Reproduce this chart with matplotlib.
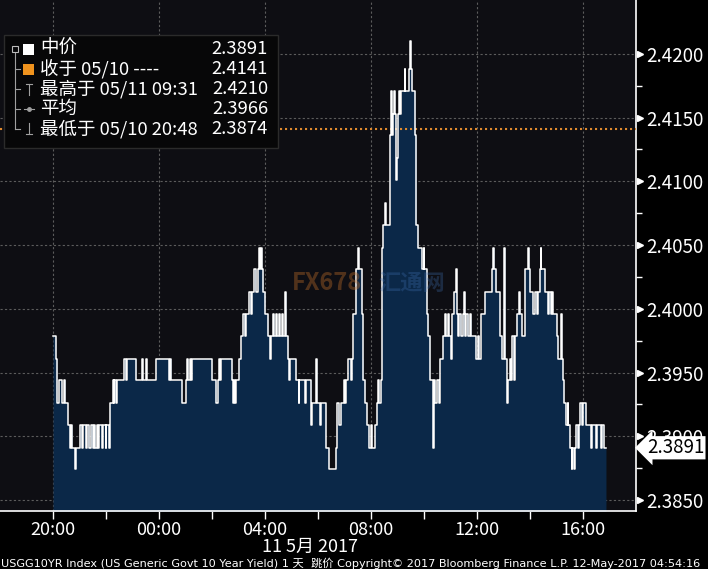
import numpy as np
import matplotlib.pyplot as plt
from matplotlib.lines import Line2D
from matplotlib.patches import Rectangle
from matplotlib.transforms import blended_transform_factory

plt.rcParams['font.family'] = ['Noto Sans CJK SC', 'DejaVu Sans']

W, H = 708, 569

# price levels (yield steps) seen on the chart
levels = [2.3874, 2.3891, 2.3909, 2.3926, 2.3944, 2.3961, 2.3979, 2.3996,
          2.4013, 2.4031, 2.4048, 2.4066, 2.4083, 2.4101, 2.4118, 2.4136,
          2.4153, 2.4171, 2.4188, 2.4210]

# minutes after 20:00 on 05/10 where the yield changes
minutes = [
    0, 6, 9, 14, 20, 24, 28, 33, 38, 40,
    44, 49, 51, 60, 65, 69, 74, 78, 82, 85,
    90, 92, 96, 99, 102, 105, 112, 114, 119, 121,
    126, 128, 135, 137, 139, 142, 145, 160, 166, 168,
    189, 201, 203, 210, 212, 234, 263, 265, 268, 292,
    302, 304, 306, 311, 313, 315, 360, 370, 373, 376,
    378, 381, 405, 408, 410, 412, 415, 421, 426, 430,
    435, 437, 444, 448, 450, 455, 459, 464, 466, 469,
    471, 473, 476, 480, 487, 491, 494, 498, 501, 505,
    507, 511, 514, 518, 520, 526, 528, 532, 534, 537,
    550, 556, 558, 571, 573, 585, 587, 596, 598, 604,
    606, 617, 624, 640, 644, 647, 651, 658, 660, 664,
    669, 674, 677, 680, 685, 690, 692, 699, 701, 703,
    706, 710, 715, 719, 722, 728, 733, 735, 739, 742,
    745, 747, 752, 753, 763, 765, 767, 769, 772, 774,
    776, 778, 780, 783, 786, 789, 796, 797, 805, 809,
    810, 813, 820, 823, 827, 835, 839, 841, 846, 850,
    853, 860, 862, 866, 870, 875, 877, 882, 888, 890,
    894, 897, 901, 904, 908, 912, 914, 917, 920, 924,
    928, 931, 933, 936, 940, 944, 947, 958, 963, 965,
    970, 977, 993, 997, 999, 1004, 1011, 1016, 1020, 1022,
    1024, 1027, 1029, 1031, 1034, 1037, 1040, 1043, 1047, 1050,
    1054, 1058, 1061, 1068, 1076, 1078, 1080, 1087, 1091, 1096,
    1098, 1102, 1105, 1106, 1113, 1120, 1122, 1127, 1129, 1131,
    1140, 1144, 1151, 1152, 1154, 1157, 1161, 1165, 1167, 1170,
    1174, 1175, 1180, 1182, 1184, 1188, 1190, 1193, 1197, 1200,
    1206, 1218, 1220, 1229, 1231, 1240, 1242, 1247, 1252,
]

# index into levels for each change
level_idx = [
    6, 5, 3, 4, 3, 4, 3, 2, 1, 2,
    1, 0, 1, 2, 1, 2, 1, 2, 1, 2,
    1, 2, 1, 2, 1, 2, 1, 2, 1, 2,
    1, 3, 4, 3, 4, 3, 4, 5, 4, 5,
    4, 5, 4, 5, 4, 5, 4, 5, 4, 3,
    4, 5, 4, 5, 4, 5, 4, 3, 4, 5,
    4, 5, 4, 3, 4, 3, 4, 5, 6, 7,
    6, 7, 8, 7, 8, 9, 8, 9, 10, 9,
    10, 9, 8, 7, 6, 5, 6, 7, 6, 7,
    6, 7, 6, 7, 6, 8, 6, 5, 4, 5,
    4, 3, 4, 3, 4, 2, 3, 5, 3, 2,
    3, 1, 0, 1, 3, 2, 3, 4, 3, 4,
    5, 4, 5, 7, 9, 10, 9, 7, 5, 4,
    3, 2, 1, 2, 1, 2, 3, 4, 3, 4,
    10, 11, 12, 11, 15, 17, 15, 16, 17, 16,
    13, 14, 16, 17, 16, 17, 18, 17, 18, 19,
    18, 17, 15, 11, 10, 9, 10, 9, 7, 6,
    4, 1, 4, 3, 4, 3, 5, 6, 7, 6,
    7, 6, 5, 7, 8, 9, 7, 6, 7, 6,
    7, 8, 6, 7, 6, 7, 6, 5, 6, 5,
    7, 8, 9, 10, 9, 8, 6, 5, 6, 10,
    5, 4, 3, 4, 5, 4, 6, 4, 6, 7,
    8, 7, 6, 9, 10, 9, 8, 7, 8, 7,
    8, 9, 10, 9, 8, 7, 8, 7, 8, 7,
    6, 5, 7, 5, 4, 3, 2, 3, 2, 1,
    0, 1, 0, 1, 2, 1, 2, 3, 2, 3,
    2, 1, 2, 1, 2, 1, 2, 1, 1,
]

hour_ticks = [2, 6, 10, 14, 18, 22]  # hours after 18:00 on 05/10
hour_labels = ["20:00", "00:00", "04:00", "08:00", "12:00", "16:00"]
minor_hours = [4, 8, 12, 16, 20]
y_ticks = [2.3850, 2.3900, 2.3950, 2.4000, 2.4050, 2.4100, 2.4150, 2.4200]
y_minor = [2.3875, 2.3925, 2.3975, 2.4025, 2.4075, 2.4125, 2.4175]

prev_close = 2.4141
last_value = 2.3891
legend_names = ["中价", "收于 05/10 ----", "最高于 05/11 09:31", "平均", "最低于 05/10 20:48"]
legend_values = ["2.3891", "2.4141", "2.4210", "2.3966", "2.3874"]

date_label = "11 5月 2017"
footer = ("USGG10YR Index (US Generic Govt 10 Year Yield) 1 天  跳价 "
          "Copyright© 2017 Bloomberg Finance L.P. 12-May-2017 04:54:16")

FS = 13.5


def fx(px):
    return px / W


def fy(py):
    return 1 - py / H


fig = plt.figure(figsize=(W / 100, H / 100), dpi=100, facecolor='black')
ax = fig.add_axes([0, fy(511), fx(636), 511 / H])
ax.set_facecolor('#0e0e13')

x = 2 + np.array(minutes) / 60
y = np.array(levels)[level_idx]

ax.fill_between(x, y, 2.38, step='post', color='#0b2848', lw=0, zorder=2)
ax.step(x, y, where='post', color='white', lw=1.1, zorder=4)
ax.axhline(prev_close, color='#e08a2e', ls=(0, (1, 1.4)), lw=1.5, zorder=3)

ax.set_xlim(0, 24)
ax.set_ylim(2.38414, 2.42422)

ax.set_xticks(hour_ticks)
ax.set_xticklabels(hour_labels)
ax.set_xticks(minor_hours, minor=True)
ax.set_yticks(y_ticks)
ax.set_yticklabels([f"{v:.4f}" for v in y_ticks])
ax.set_yticks(y_minor, minor=True)
ax.yaxis.tick_right()

ax.tick_params(axis='x', which='both', colors='white', direction='out',
               length=6, width=1, labelsize=13, pad=1)
ax.tick_params(axis='y', which='major', colors='white', length=0,
               labelsize=FS, pad=7)
ax.tick_params(axis='y', which='minor', colors='white', direction='out',
               length=4, width=1)
for lbl in ax.get_xticklabels():
    lbl.set_verticalalignment('top')

ax.grid(which='major', color='#5c5c5c', ls=(0, (2, 2)), lw=0.8, zorder=1)
ax.set_axisbelow(True)

for side in ['left', 'top']:
    ax.spines[side].set_visible(False)
for side in ['right', 'bottom']:
    ax.spines[side].set_color('white')
    ax.spines[side].set_linewidth(1.2)

trans = blended_transform_factory(ax.transAxes, ax.transData)
ax.plot(np.full(len(y_ticks), 1 + 4 / 636), y_ticks, ls='none', marker='>',
        ms=5, color='white', transform=trans, clip_on=False)

ax.text(1 + 11 / 636, last_value, f"{last_value:.4f}", transform=trans,
        ha='left', va='center', fontsize=FS, color='black', zorder=6,
        bbox=dict(boxstyle='larrow,pad=0.06', fc='white', ec='none'))

# watermark
fig.text(fx(292), fy(283), "FX678", fontsize=17, color='#b86a28', alpha=0.4,
         fontweight='bold', ha='left', va='center')
fig.text(fx(378), fy(283), "汇通网", fontsize=16, color='#3f6fb0', alpha=0.3,
         fontweight='bold', ha='left', va='center')

# legend box
fig.add_artist(Rectangle((fx(4), fy(148)), fx(274), 113 / H, fc='#070708',
                         ec='#2b2b2b', lw=1, transform=fig.transFigure, zorder=5))
row_y = [49, 69, 89, 109, 129]
grey = '#a0a0a0'
fig.add_artist(Line2D([fx(15), fx(15)], [fy(52), fy(129)], color=grey,
                      lw=0.8, transform=fig.transFigure, zorder=6))
fig.add_artist(Rectangle((fx(12), fy(52)), fx(6), 6 / H, fc='#070708', ec='#bbbbbb',
                         lw=0.8, transform=fig.transFigure, zorder=6))
for ry in row_y[1:]:
    fig.add_artist(Line2D([fx(15), fx(20)], [fy(ry), fy(ry)], color=grey,
                          lw=0.8, transform=fig.transFigure, zorder=6))
for ry, col in zip(row_y[:2], ['white', '#f0931e']):
    fig.add_artist(Rectangle((fx(23), fy(ry + 6)), fx(11), 11 / H, fc=col,
                             ec='none', transform=fig.transFigure, zorder=6))
# high marker
fig.add_artist(Line2D([fx(29), fx(29)], [fy(row_y[2] - 5), fy(row_y[2] + 6)],
                      color=grey, lw=0.8, transform=fig.transFigure, zorder=6))
fig.add_artist(Line2D([fx(26), fx(32)], [fy(row_y[2] - 5), fy(row_y[2] - 5)],
                      color=grey, lw=0.8, transform=fig.transFigure, zorder=6))
# average marker
fig.add_artist(Line2D([fx(24), fx(34)], [fy(row_y[3]), fy(row_y[3])], color=grey,
                      lw=0.8, transform=fig.transFigure, zorder=6))
fig.add_artist(Line2D([fx(29)], [fy(row_y[3])], color=grey, marker='o', ms=2.5,
                      transform=fig.transFigure, zorder=6))
# low marker
fig.add_artist(Line2D([fx(29), fx(29)], [fy(row_y[4] - 6), fy(row_y[4] + 5)],
                      color=grey, lw=0.8, transform=fig.transFigure, zorder=6))
fig.add_artist(Line2D([fx(26), fx(32)], [fy(row_y[4] + 5), fy(row_y[4] + 5)],
                      color=grey, lw=0.8, transform=fig.transFigure, zorder=6))

for ry, name, val in zip(row_y, legend_names, legend_values):
    fig.text(fx(40), fy(ry), name, color='white', fontsize=13.3, ha='left',
             va='center', zorder=7)
    fig.text(fx(268), fy(ry), val, color='white', fontsize=13.3, ha='right',
             va='center', zorder=7)

fig.text(fx(310), fy(547), date_label, color='white', fontsize=13,
         ha='center', va='center')
fig.text(fx(1), fy(563), footer, color='white', fontsize=8.1, ha='left',
         va='center', family=['DejaVu Sans', 'Noto Sans CJK SC'])

fig.savefig('out.png', dpi=100, facecolor='black')
